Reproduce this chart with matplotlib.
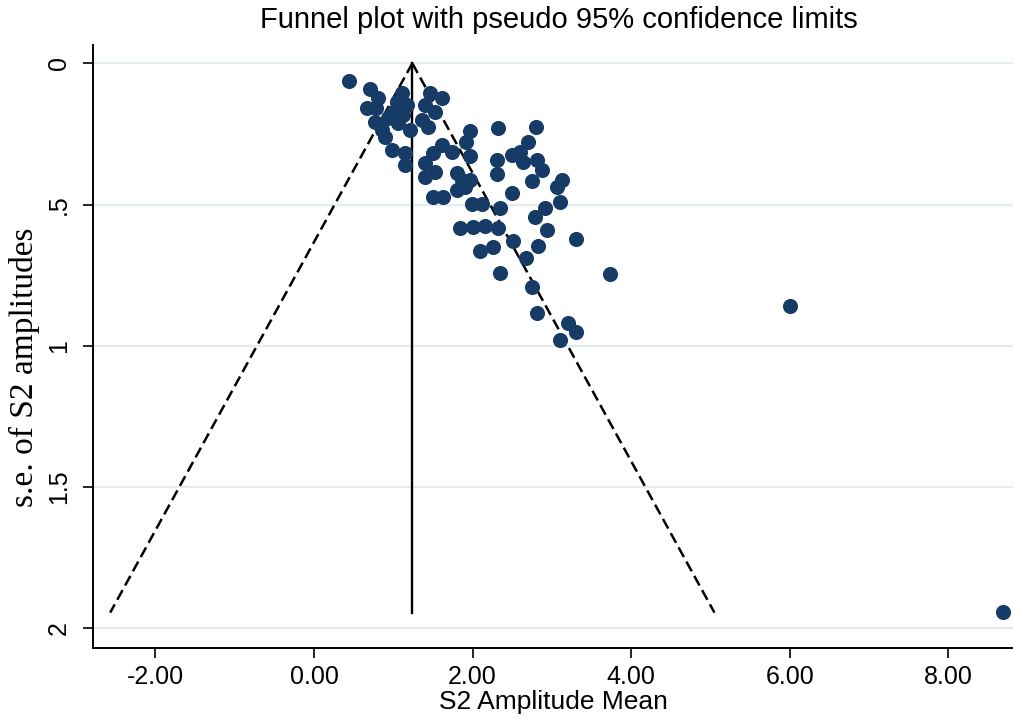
import numpy as np
import matplotlib.pyplot as plt

# Study estimates (S2 amplitude mean) and their standard errors.
amp_mean = np.array([
    0.44, 0.71, 0.81, 0.67, 0.78, 1.11, 1.05, 1.17, 1.00, 1.12,
    0.93, 0.77, 0.86, 0.90, 1.21, 1.06, 1.46, 1.61, 1.40, 1.53,
    1.36, 1.44, 0.98, 1.15, 1.15, 1.61, 1.50, 1.74, 1.40, 1.53,
    1.40, 1.97, 1.92, 1.97, 1.80, 2.32, 2.80, 2.70, 2.31, 2.50,
    2.60, 2.64, 2.81, 2.88, 2.31, 2.75, 3.13, 3.06, 1.87, 1.97,
    1.80, 1.90, 1.50, 1.63, 2.50, 3.10, 1.99, 2.12, 2.35, 2.91,
    2.79, 1.84, 2.01, 2.16, 2.32, 2.94, 2.51, 2.83, 3.30, 2.09,
    2.26, 2.67, 2.35, 2.75, 2.81, 3.20, 3.30, 3.10, 3.73, 6.00,
    8.69])
amp_se = np.array([
    0.062, 0.090, 0.122, 0.158, 0.158, 0.104, 0.136, 0.147, 0.172, 0.182,
    0.193, 0.207, 0.235, 0.260, 0.235, 0.211, 0.104, 0.122, 0.147, 0.172,
    0.200, 0.225, 0.306, 0.317, 0.359, 0.288, 0.317, 0.313, 0.352, 0.384,
    0.402, 0.239, 0.278, 0.327, 0.388, 0.228, 0.225, 0.278, 0.342, 0.324,
    0.313, 0.349, 0.342, 0.377, 0.391, 0.416, 0.412, 0.437, 0.412, 0.412,
    0.448, 0.437, 0.473, 0.473, 0.458, 0.490, 0.497, 0.497, 0.512, 0.512,
    0.543, 0.582, 0.579, 0.575, 0.582, 0.589, 0.628, 0.646, 0.621, 0.664,
    0.650, 0.688, 0.742, 0.791, 0.883, 0.919, 0.950, 0.979, 0.745, 0.858,
    1.942])

# Pooled estimate and largest s.e. for the pseudo 95% limits.
pooled = 1.24
se_max = 1.944

x_ticks = [-2, 0, 2, 4, 6, 8]
x_labels = ["-2.00", "0.00", "2.00", "4.00", "6.00", "8.00"]
y_ticks = [0, 0.5, 1, 1.5, 2]
y_labels = ["0", ".5", "1", "1.5", "2"]

plt.rcParams['font.family'] = ['Liberation Sans', 'DejaVu Sans']

fig = plt.figure(figsize=(10.13, 7.19), dpi=100)
ax = fig.add_axes([0.0918, 0.0988, 0.9082, 0.8387])

for yv in y_ticks:
    ax.axhline(yv, color='#e4ecef', lw=1.6, zorder=0)

ax.plot([pooled, pooled], [0, se_max], color='black', lw=1.7, zorder=2)
ax.plot([pooled, pooled - 1.96 * se_max], [0, se_max], color='black', lw=1.8,
        dashes=(4.4, 2.1), zorder=2)
ax.plot([pooled, pooled + 1.96 * se_max], [0, se_max], color='black', lw=1.8,
        dashes=(4.4, 2.1), zorder=2)

ax.scatter(amp_mean, amp_se, s=118, color='#163b66', linewidths=0, zorder=3,
           clip_on=False)

ax.set_xlim(-2.787, 8.815)
ax.set_ylim(2.069, -0.065)

ax.set_xticks(x_ticks)
ax.set_xticklabels(x_labels, fontsize=18)
ax.set_yticks(y_ticks)
ax.set_yticklabels(y_labels, fontsize=18, rotation=90, va='center')
ax.tick_params(direction='out', length=7, width=1.2)
ax.tick_params(axis='x', pad=5)
ax.tick_params(axis='y', pad=9)

for side in ['top', 'right']:
    ax.spines[side].set_visible(False)
for side in ['left', 'bottom']:
    ax.spines[side].set_linewidth(1.4)

ax.set_xlabel("S2 Amplitude Mean", fontsize=19, labelpad=1)
ax.set_ylabel("s.e. of S2 amplitudes", fontsize=24, family='Liberation Serif')
ax.yaxis.set_label_coords(-0.0576, 0.466)
fig.suptitle("Funnel plot with pseudo 95% confidence limits", fontsize=21,
             x=0.552, y=0.992)

plt.savefig("out.png", dpi=100)
